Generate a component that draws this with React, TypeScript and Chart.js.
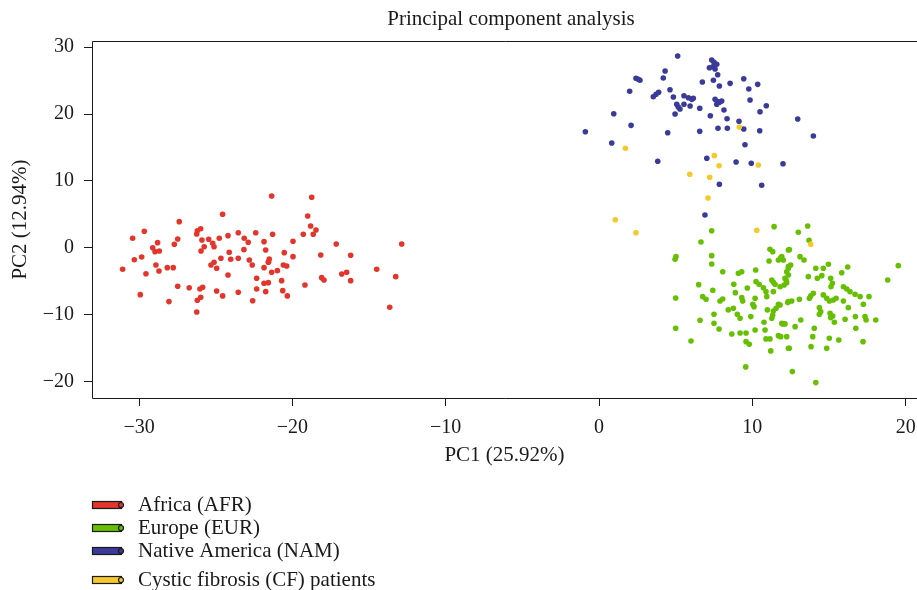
import React, { useEffect, useRef } from 'react';
import { Chart, registerables } from 'chart.js';

Chart.register(...registerables);

const TITLE = 'Principal component analysis';
const X_LABEL = 'PC1 (25.92%)';
const Y_LABEL = 'PC2 (12.94%)';
const X_TICKS = [-30, -20, -10, 0, 10, 20];
const Y_TICKS = [-20, -10, 0, 10, 20, 30];
const GROUPS = ['Africa (AFR)', 'Europe (EUR)', 'Native America (NAM)', 'Cystic fibrosis (CF) patients'];
const COLORS = ['#E2362D', '#66BF00', '#3A3A99', '#F5C92A'];

const AFR = [
  [-31.07, -3.18], [-30.42, 1.45], [-29.66, 2.49], [-30.31, -1.75], [-29.83, -1.34], [-29.55, -3.84], [-29.92, -6.97],
  [-29.11, 0.04], [-28.96, -0.55], [-28.68, -0.45], [-28.79, 0.79], [-28.9, -2.54], [-28.7, -3.43], [-28.16, -2.94],
  [-27.77, -2.94], [-28.05, -8.01], [-27.48, -5.72], [-27.38, 3.93], [-27.7, 0.55], [-27.48, 1.34], [-26.73, -5.93],
  [-26.24, -9.55], [-26.2, -7.81], [-25.98, -7.36], [-26.03, -6.12], [-25.85, -5.87], [-26.24, 2.09], [-25.98, 2.88],
  [-26.2, 2.58], [-25.9, 1.19], [-25.46, 1.3], [-25.2, 0.7], [-25.11, 0.19], [-25.75, 0.19], [-25.96, -0.45],
  [-24.77, 1.45], [-24.55, 5.03], [-24.2, 1.84], [-23.53, 2.28], [-23.14, 1.45], [-22.88, 0.85], [-22.39, 2.28],
  [-24.12, -0.64], [-24.02, -1.69], [-23.53, -1.54], [-23.16, -0.25], [-25.31, -2.54], [-25.11, -2.13], [-24.94, -3.03],
  [-24.66, -1.54], [-24.2, -4.03], [-24.94, -6.42], [-24.55, -7.16], [-23.53, -6.61], [-22.81, -1.79], [-22.62, -2.54],
  [-21.85, 0.94], [-21.74, -0.3], [-21.85, -2.94], [-22.33, -4.52], [-22.33, -6.12], [-21.85, -5.27], [-21.74, -6.52],
  [-22.59, -7.87], [-21.55, -2.04], [-21.35, 7.76], [-18.74, 7.57], [-19.0, 4.78], [-18.81, 3.28], [-18.46, 2.69],
  [-18.64, 2.04], [-19.29, 2.04], [-21.29, 2.04], [-19.96, 1.0], [-20.53, -0.7], [-19.96, -1.3], [-21.51, -1.64],
  [-21.57, -2.13], [-21.35, -3.63], [-20.98, -3.39], [-20.59, -2.54], [-20.37, -2.69], [-21.57, -5.18], [-20.7, -4.88],
  [-20.63, -6.37], [-20.33, -7.16], [-19.18, -5.52], [-18.15, -1.04], [-17.14, 0.6], [-16.2, -1.09], [-18.09, -4.43],
  [-17.94, -4.78], [-16.78, -3.88], [-16.46, -3.63], [-16.2, -4.88], [-14.5, -3.18], [-13.26, -4.28], [-12.87, 0.6],
  [-13.65, -8.85],
];

const EUR = [
  [7.35, 2.58], [11.42, 3.18], [6.65, 0.9], [5.02, -1.3], [4.96, -1.69], [7.35, -1.15], [7.35, -2.39], [8.07, -3.54],
  [9.09, -3.78], [9.31, -3.54], [10.22, -3.28], [11.15, -0.19], [11.33, -0.55], [11.09, -1.94], [11.7, -1.79],
  [11.85, -1.45], [12.35, -0.3], [6.5, -5.48], [7.42, -6.31], [8.79, -5.42], [9.67, -5.97], [10.24, -5.03],
  [10.44, -5.42], [10.72, -5.93], [10.89, -6.52], [11.27, -4.78], [11.37, -5.12], [11.48, -5.42], [11.81, -5.78],
  [12.13, -4.52], [12.35, -4.03], [12.35, -2.79], [5.0, -7.46], [6.76, -7.27], [6.98, -7.66], [7.89, -7.91],
  [8.07, -7.61], [8.89, -6.67], [9.31, -7.42], [9.37, -7.91], [10.18, -7.51], [10.03, -8.4], [10.11, -8.76],
  [10.94, -7.27], [11.37, -6.52], [11.7, -8.4], [11.55, -9.0], [11.37, -9.4], [10.98, -9.25], [12.31, -8.16],
  [8.43, -9.25], [8.76, -9.0], [9.02, -9.9], [9.2, -10.49], [7.5, -9.9], [9.9, -10.25], [6.59, -10.79], [7.5, -11.24],
  [7.83, -12.09], [5.0, -11.99], [8.66, -12.84], [9.2, -12.69], [9.59, -12.69], [10.18, -12.24], [10.83, -12.24],
  [10.76, -11.09], [11.27, -10.49], [11.33, -10.0], [11.98, -11.34], [11.7, -13.09], [11.85, -13.24], [10.89, -13.58],
  [11.15, -13.58], [9.59, -13.99], [9.8, -14.37], [6.0, -13.88], [11.2, -15.37], [12.35, -14.97], [9.57, -17.76],
  [13.61, 3.28], [13.0, 2.34], [13.7, 1.15], [12.41, -0.25], [11.92, -1.3], [12.02, -1.79], [13.11, -1.3],
  [13.37, -1.79], [12.5, -2.54], [12.35, -3.03], [12.24, -3.54], [14.14, -3.03], [14.63, -3.03], [14.96, -2.43],
  [16.22, -2.84], [15.83, -3.69], [13.65, -4.28], [14.24, -4.52], [14.53, -4.13], [15.11, -4.52], [15.22, -5.27],
  [15.13, -5.78], [12.2, -4.78], [12.07, -5.52], [12.24, -5.18], [15.94, -5.78], [16.16, -6.12], [16.37, -6.52],
  [16.7, -6.91], [17.03, -7.27], [19.52, -2.64], [18.83, -4.78], [17.61, -7.27], [13.98, -6.76], [13.81, -7.16],
  [13.72, -7.51], [14.63, -7.01], [14.85, -7.51], [15.02, -7.91], [15.28, -7.76], [15.46, -7.51], [12.35, -8.01],
  [12.57, -7.91], [13.07, -7.66], [15.94, -7.91], [17.24, -8.4], [16.26, -8.91], [14.37, -8.91], [14.46, -9.51],
  [14.37, -9.9], [15.07, -9.75], [15.24, -10.15], [15.11, -10.4], [11.81, -8.51], [16.05, -10.64], [16.72, -10.25],
  [17.35, -10.25], [17.42, -10.75], [18.05, -10.75], [13.16, -10.75], [15.35, -11.09], [11.92, -11.24], [12.13, -11.34],
  [12.79, -11.75], [14.04, -11.99], [16.75, -11.99], [12.24, -13.24], [13.94, -13.24], [15.02, -13.48], [15.64, -13.73],
  [17.22, -13.99], [12.41, -14.97], [13.83, -14.73], [14.85, -14.97], [12.61, -18.46], [14.14, -20.1],
];

const NAM = [
  [5.13, 28.66], [7.35, 28.06], [7.5, 27.72], [7.68, 27.42], [7.42, 27.06], [7.2, 26.91], [7.57, 26.72], [4.31, 26.42],
  [4.19, 25.37], [2.41, 25.33], [2.56, 25.18], [2.67, 25.03], [7.74, 25.87], [6.74, 24.78], [7.46, 25.03], [7.85, 24.18],
  [8.55, 24.58], [9.44, 25.27], [10.35, 24.43], [9.77, 23.73], [2.0, 23.39], [4.63, 23.63], [3.72, 22.94], [3.54, 22.58],
  [3.89, 23.24], [4.85, 22.54], [5.54, 22.73], [5.83, 22.43], [6.15, 22.34], [6.05, 22.19], [5.07, 21.45], [5.17, 21.04],
  [5.28, 20.75], [5.54, 21.45], [5.94, 21.19], [6.57, 20.85], [4.96, 20.0], [7.57, 22.19], [7.78, 21.84], [8.0, 21.94],
  [7.68, 21.45], [7.85, 21.75], [8.15, 20.6], [9.85, 22.09], [10.91, 21.24], [10.5, 20.34], [7.26, 19.75], [8.35, 19.3],
  [9.13, 18.91], [0.96, 20.04], [2.09, 18.31], [-0.89, 17.36], [0.83, 15.67], [4.48, 17.21], [6.57, 17.42], [7.76, 17.87],
  [8.37, 17.87], [9.44, 17.76], [10.48, 17.51], [12.96, 19.25], [13.98, 16.72], [9.52, 15.42], [7.03, 13.39], [8.94, 12.84],
  [9.93, 12.64], [12.0, 12.58], [3.83, 12.94], [7.85, 9.51], [10.61, 9.36], [6.91, 4.93],
];

const CF = [
  [1.72, 14.88], [7.52, 13.78], [7.83, 12.28], [10.39, 12.39], [5.92, 11.0], [7.22, 10.55], [7.11, 7.46], [1.06, 4.22],
  [2.41, 2.28], [10.29, 2.64], [9.15, 18.06], [13.81, 0.55],
];

const SERIES = [AFR, EUR, NAM, CF];

const FONT = '"Liberation Serif", "Times New Roman", serif';
const INK = '#1a1a1a';

const fmt = (v: number) => (v < 0 ? '\u2212' + Math.abs(v) : String(v));

const decor = {
  id: 'decor',
  afterDraw(chart: any) {
    const { ctx, chartArea: a } = chart;
    ctx.save();
    ctx.strokeStyle = INK;
    ctx.lineWidth = 1;
    ctx.beginPath();
    ctx.moveTo(a.right + 20, Math.round(a.top) + 0.5);
    ctx.lineTo(Math.round(a.left) + 0.5, Math.round(a.top) + 0.5);
    ctx.lineTo(Math.round(a.left) + 0.5, Math.round(a.bottom) + 0.5);
    ctx.lineTo(a.right + 20, Math.round(a.bottom) + 0.5);
    ctx.stroke();

    ctx.fillStyle = INK;
    ctx.font = '21px ' + FONT;
    ctx.textAlign = 'center';
    ctx.textBaseline = 'middle';
    ctx.fillText(TITLE, 511, 19);

    const rows = [505, 528, 551, 580];
    ctx.textAlign = 'left';
    GROUPS.forEach((g, i) => {
      const y = rows[i];
      ctx.fillStyle = COLORS[i];
      ctx.fillRect(92, y - 3.5, 30, 7);
      ctx.strokeStyle = INK;
      ctx.lineWidth = 1.2;
      ctx.strokeRect(92.5, y - 3.5, 29, 7);
      ctx.beginPath();
      ctx.arc(121, y, 2.5, 0, Math.PI * 2);
      ctx.fillStyle = COLORS[i];
      ctx.fill();
      ctx.stroke();
      ctx.fillStyle = INK;
      ctx.fillText(g, 138, y);
    });
    ctx.restore();
  },
};

export default function App() {
  const ref = useRef<HTMLCanvasElement>(null);
  useEffect(() => {
    document.body.style.margin = '0';
    const canvas = ref.current;
    if (!canvas) return;
    const orders = [3, 2, 1, 0];
    const chart = new Chart(canvas, {
      type: 'scatter',
      data: {
        datasets: SERIES.map((pts, i) => ({
          label: GROUPS[i],
          data: pts.map(([x, y]) => ({ x, y })),
          backgroundColor: COLORS[i],
          borderWidth: 0,
          pointRadius: 2.8,
          order: orders[i],
        })),
      },
      options: {
        animation: false,
        responsive: false,
        events: [],
        layout: { autoPadding: false, padding: { top: 41, bottom: 112, left: 0, right: 0 } },
        plugins: { legend: { display: false }, tooltip: { enabled: false }, title: { display: false } },
        scales: {
          x: {
            type: 'linear',
            min: -33.07,
            max: 20.74,
            afterBuildTicks: (s: any) => { s.ticks = X_TICKS.map((v) => ({ value: v })); },
            afterFit: (s: any) => { s.height = 80; s.paddingLeft = 0; s.paddingRight = 0; },
            border: { display: false },
            grid: { drawOnChartArea: false, drawTicks: true, tickLength: 8, color: INK },
            ticks: { color: INK, padding: 10, font: { family: FONT, size: 20 }, callback: (v: any) => fmt(Number(v)), maxRotation: 0, autoSkip: false },
            title: { display: true, text: X_LABEL, color: INK, font: { family: FONT, size: 21 }, padding: { top: 0, bottom: 10 } },
          },
          y: {
            type: 'linear',
            min: -22.4,
            max: 30.9,
            afterBuildTicks: (s: any) => { s.ticks = Y_TICKS.map((v) => ({ value: v })); },
            afterFit: (s: any) => { s.width = 92; s.paddingTop = 0; s.paddingBottom = 0; },
            border: { display: false },
            grid: { drawOnChartArea: false, drawTicks: true, tickLength: 8, color: INK },
            ticks: { color: INK, padding: 10, font: { family: FONT, size: 20 }, callback: (v: any) => fmt(Number(v)), autoSkip: false },
            title: { display: true, text: Y_LABEL, color: INK, font: { family: FONT, size: 21 }, padding: { top: 8, bottom: 0 } },
          },
        },
      },
      plugins: [decor],
    });
    return () => chart.destroy();
  }, []);
  return <canvas ref={ref} width={917} height={590} style={{ display: 'block' }} />;
}
